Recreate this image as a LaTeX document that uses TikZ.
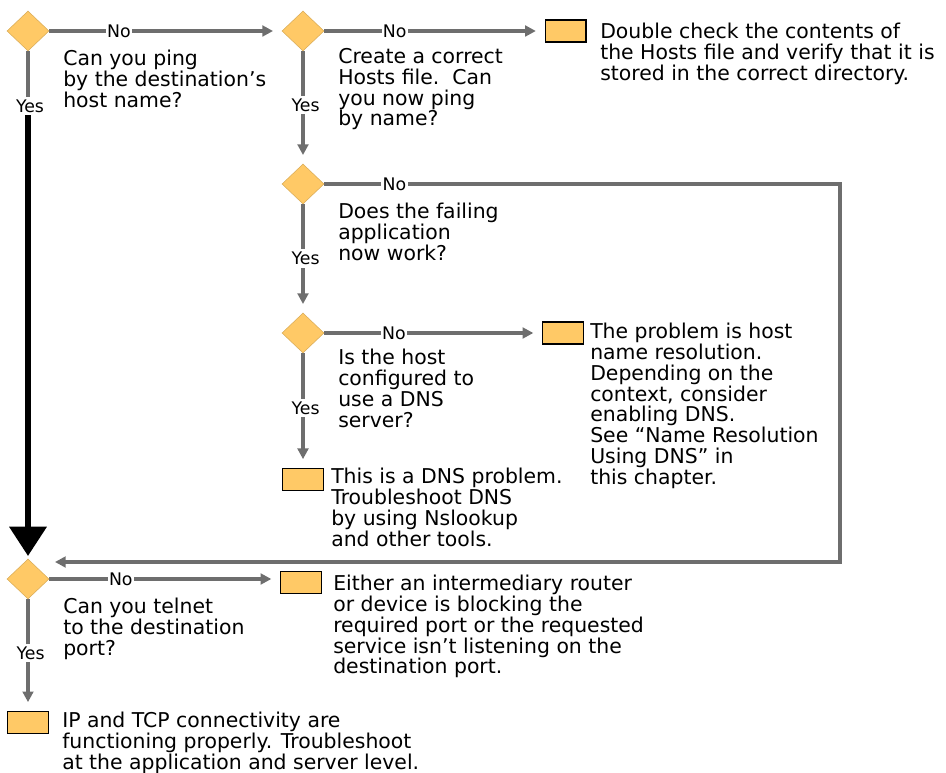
\documentclass[tikz,border=0pt]{standalone}
\usepackage{fontspec}
\newfontfamily\flowfont{DejaVu Sans}
\usetikzlibrary{shapes.geometric,arrows.meta}
\definecolor{boxfill}{HTML}{FFC966}
\definecolor{linegray}{HTML}{6E6E6E}

\begin{document}
\begin{tikzpicture}[x=0.75pt,y=-0.75pt,
	decision/.style={diamond,fill=boxfill,draw=boxfill!85!black,line width=0.4pt,minimum width=31.5pt,minimum height=30pt,inner sep=0pt},
	result/.style={rectangle,fill=boxfill,draw=black,line width=1pt,minimum width=30.5pt,minimum height=16.5pt,inner sep=0pt},
	note/.style={anchor=north west,inner sep=0pt,align=left,font=\flowfont\fontsize{15.3}{15.6}\selectfont},
	lbl/.style={fill=white,inner xsep=1pt,inner ysep=2pt,font=\flowfont\fontsize{13}{14}\selectfont},
	link/.style={draw=linegray,line width=2.3pt},
	flow/.style={link,-{Triangle[length=8pt,width=8pt]},shorten >=6.5pt}]
		
		\useasboundingbox (0,0) rectangle (946,773);
		
		%Decisions
		\node[decision] (q1) at (28,31) {};
		\node[decision] (q2) at (303,31) {};
		\node[decision] (q3) at (303,184) {};
		\node[decision] (q4) at (303,333) {};
		\node[decision] (q5) at (28,579) {};
		
		%Results
		\node[result] (r1) at (565.5,31) {};
		\node[result] (r2) at (563,333) {};
		\node[result] (r3) at (303,479.5) {};
		\node[result] (r4) at (301,582.5) {};
		\node[result] (r5) at (28,722.5) {};
		
		%Questions
		\node[note] (t1) at (63,50) {Can you ping\\by the destination’s\\host name?};
		\node[note] (t2) at (338,48) {Create a correct\\Hosts file.\ \ Can\\you now ping\\by name?};
		\node[note] (t3) at (338,203) {Does the failing\\application\\now work?};
		\node[note] (t4) at (338,349) {Is the host\\configured to\\use a DNS\\server?};
		\node[note] (t5) at (63,598) {Can you telnet\\to the destination\\port?};
		
		%Answers
		\node[note] (rt1) at (600,23) {Double check the contents of\\the Hosts file and verify that it is\\stored in the correct directory.};
		\node[note] (rt2) at (590,323) {The problem is host\\name resolution.\\Depending on the\\context, consider\\enabling DNS.\\See “Name Resolution\\Using DNS” in\\this chapter.};
		\node[note] (rt3) at (331,468) {This is a DNS problem.\\Troubleshoot DNS\\by using Nslookup\\and other tools.};
		\node[note] (rt4) at (333,575) {Either an intermediary router\\or device is blocking the\\required port or the requested\\service isn’t listening on the\\destination port.};
		\node[note] (rt5) at (62,712) {IP and TCP connectivity are\\functioning properly. Troubleshoot\\at the application and server level.};
		
		%No branches
		\draw[flow] (q1.east) -- node[lbl,pos=0.3] {No} (q2.west);
		\draw[flow] (q2.east) -- node[lbl,pos=0.32] {No} (r1.west);
		\draw[flow] (q4.east) -- node[lbl,pos=0.32] {No} (r2.west);
		\draw[flow] (q5.east) -- node[lbl,pos=0.31] {No} (q5.east -| r4.west);
		
		%Loop back to the telnet test
		\coordinate (c1) at (840,184);
		\coordinate (c2) at (840,562);
		\coordinate (c3) at (55,562);
		\draw[flow,shorten >=0pt] (q3.east) -- node[lbl,pos=0.136] {No} (c1) -- (c2) -- (c3);
		
		%Yes branches
		\draw[flow] (q2.south) -- node[lbl,pos=0.48,xshift=2pt] {Yes} (q3.north);
		\draw[flow] (q3.south) -- node[lbl,pos=0.5,xshift=2pt] {Yes} (q4.north);
		\draw[flow] (q4.south) -- node[lbl,pos=0.48,xshift=2pt] {Yes} (r3.north);
		\draw[flow] (q5.south) -- node[lbl,pos=0.48,xshift=2pt] {Yes} (r5.north);
		
		%Big jump down
		\node[lbl] (y1) at (30,106) {Yes};
		\draw[link] (q1.south) -- (q1.south |- y1.north);
		\draw[line width=5pt,-{Triangle[length=22pt,width=27pt]},shorten >=2pt] (q1.south |- y1.south) -- (q5.north);
	\end{tikzpicture}
\end{document}
